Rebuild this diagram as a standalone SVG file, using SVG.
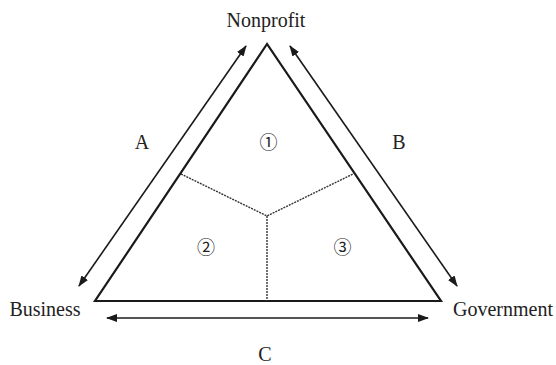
<svg xmlns="http://www.w3.org/2000/svg" width="556" height="365" viewBox="0 0 556 365">
<style>
.lbl{font-family:"Liberation Serif","Times New Roman",serif;font-size:20px;fill:#222;}
.num{font-family:"Noto Sans CJK SC","DejaVu Sans",sans-serif;font-size:18px;fill:#222;}
.tri{fill:none;stroke:#1a1a1a;stroke-width:2.2;stroke-linejoin:miter;}
.dot{fill:none;stroke:#333;stroke-width:1.4;stroke-dasharray:2 1;}
.arr{fill:none;stroke:#1a1a1a;stroke-width:1.6;marker-start:url(#ah);marker-end:url(#ah);}
</style>
<defs>
<marker id="ah" viewBox="0 0 11 8" refX="10" refY="4" markerWidth="11" markerHeight="8" markerUnits="userSpaceOnUse" orient="auto-start-reverse">
<path d="M0,0 L11,4 L0,8 Z" fill="#1a1a1a"/>
</marker>
</defs>
<rect width="556" height="365" fill="#fff"/>
<g id="triangle">
<polygon class="tri" points="267,44 95,301 441,301"/>
</g>
<g id="regions">
<polyline class="dot" points="181,174 267,216 353,174"/>
<line class="dot" x1="267" y1="216" x2="267" y2="301"/>
</g>
<g id="connectors">
<line class="arr" x1="79" y1="286" x2="246" y2="46"/>
<line class="arr" x1="290" y1="46" x2="457" y2="286"/>
<line class="arr" x1="107" y1="318" x2="428" y2="318"/>
</g>
<g id="node-nonprofit"><text class="lbl" x="266" y="27" text-anchor="middle">Nonprofit</text></g>
<g id="node-business"><text class="lbl" x="45" y="316" text-anchor="middle">Business</text></g>
<g id="node-government"><text class="lbl" x="503" y="316" text-anchor="middle">Government</text></g>
<g id="labels">
<text class="lbl" x="142" y="149" text-anchor="middle">A</text>
<text class="lbl" x="399" y="149" text-anchor="middle">B</text>
<text class="lbl" x="265" y="361" text-anchor="middle">C</text>
<text class="num" x="268.5" y="149" text-anchor="middle">①</text>
<text class="num" x="206" y="254" text-anchor="middle">②</text>
<text class="num" x="342.5" y="254" text-anchor="middle">③</text>
</g>
</svg>
